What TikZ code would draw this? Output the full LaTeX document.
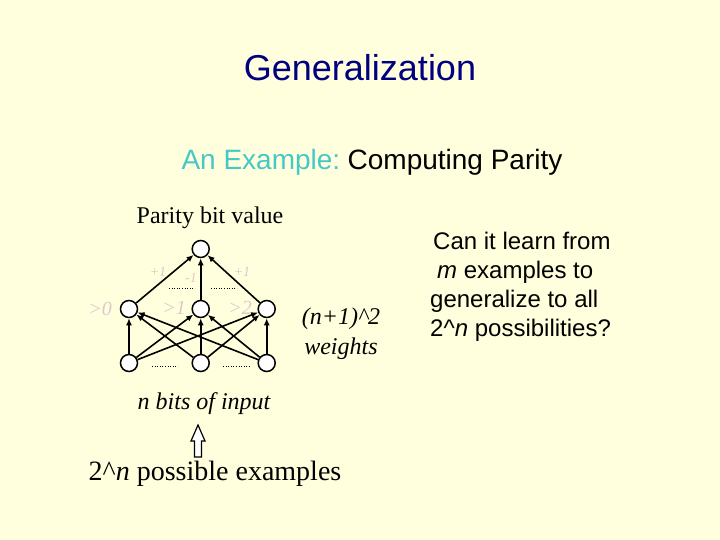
\documentclass[tikz,border=0pt]{standalone}
\usepackage{fontspec}
\setmainfont{Liberation Serif}
\setsansfont{Liberation Sans}
\usetikzlibrary{arrows.meta}
\definecolor{bg}{RGB}{255,255,221}
\definecolor{titleblue}{RGB}{0,0,128}
\definecolor{teal}{RGB}{70,200,200}
\definecolor{lbl}{RGB}{222,200,205}
\tikzset{
  neuron/.style={circle,draw=black,fill=white,line width=1.5pt,minimum size=17pt,inner sep=0pt},
  conn/.style={line width=1.6pt,-{Latex[length=7pt,width=6pt]}},
  dots/.style={line width=0.6pt,dotted},
  thr/.style={text=lbl,font=\fontsize{20}{24}\selectfont\itshape,inner sep=0pt},
  wt/.style={text=lbl,font=\fontsize{14}{16}\selectfont\itshape,inner sep=0pt},
  sans/.style={font=\sffamily\fontsize{24}{28}\selectfont,inner sep=0pt,anchor=base west},
}
\begin{document}
\begin{tikzpicture}[x=1pt,y=-1pt]
\useasboundingbox[fill=bg] (0,0) rectangle (720,540);
% titles
\node[anchor=base,inner sep=0pt,text=titleblue,font=\sffamily\fontsize{36}{40}\selectfont] (title) at (360,81) {Generalization};
\node[anchor=base,inner sep=0pt,font=\sffamily\fontsize{28}{32}\selectfont] (sub) at (372,170) {\textcolor{teal}{An Example:}\hspace{-3pt} Computing Parity};
% network
\node[anchor=base,inner sep=0pt,font=\fontsize{24}{28}\selectfont] (pbv) at (210,223) {Parity bit value};
\node[neuron] (o) at (200.7,249) {};
\node[neuron] (h1) at (129,309) {};
\node[neuron] (h2) at (200.7,309) {};
\node[neuron] (h3) at (266.7,309) {};
\node[neuron] (i1) at (129,363) {};
\node[neuron] (i2) at (200.7,363) {};
\node[neuron] (i3) at (266.7,363) {};
\foreach \h in {h1,h2,h3} \draw[conn] (\h) -- (o);
\foreach \i in {i1,i2,i3} \foreach \h in {h1,h2,h3} \draw[conn] (\i) -- (\h);
\node[thr] (t0) at (100,309) {>0};
\node[thr] (t1) at (174,308) {>1};
\node[thr] (t2) at (240,308) {>2};
\node[wt] (w1) at (158,272) {+1};
\node[wt] (w2) at (191,278) {-1};
\node[wt] (w3) at (242,272) {+1};
\coordinate (d1a) at (169,288); \coordinate (d1b) at (195,288);
\coordinate (d2a) at (211,288); \coordinate (d2b) at (237,288);
\coordinate (d3a) at (152,366); \coordinate (d3b) at (178,366);
\coordinate (d4a) at (223,366); \coordinate (d4b) at (250,366);
\draw[dots] (d1a) -- (d1b);
\draw[dots] (d2a) -- (d2b);
\draw[dots] (d3a) -- (d3b);
\draw[dots] (d4a) -- (d4b);
\node[anchor=base,inner sep=0pt,font=\fontsize{24}{28}\selectfont\itshape] (wts1) at (341,324) {(n+1)\^{}2};
\node[anchor=base,inner sep=0pt,font=\fontsize{24}{28}\selectfont\itshape] (wts2) at (341,354) {weights};
\node[anchor=base,inner sep=0pt,font=\fontsize{24}{28}\selectfont\itshape] (nbits) at (204,409) {n bits of input};
% hollow arrow
\draw[line width=1.2pt,fill=white,line join=miter]
  (198,425) -- (205,441) -- (201.5,441) -- (201.5,457) -- (194.5,457) -- (194.5,441) -- (191,441) -- cycle;
\node[anchor=base,inner sep=0pt,font=\fontsize{28}{32}\selectfont] (ex) at (215,480) {2\^{}\textit{n} possible examples};
% right text
\node[sans] (r1) at (433,249) {Can it learn from};
\node[sans] (r2) at (437,278) {\textit{m} examples to};
\node[sans] (r3) at (430,307) {generalize to all};
\node[sans] (r4) at (430,336) {2\^{}\textit{n} possibilities?};
\end{tikzpicture}
\end{document}
